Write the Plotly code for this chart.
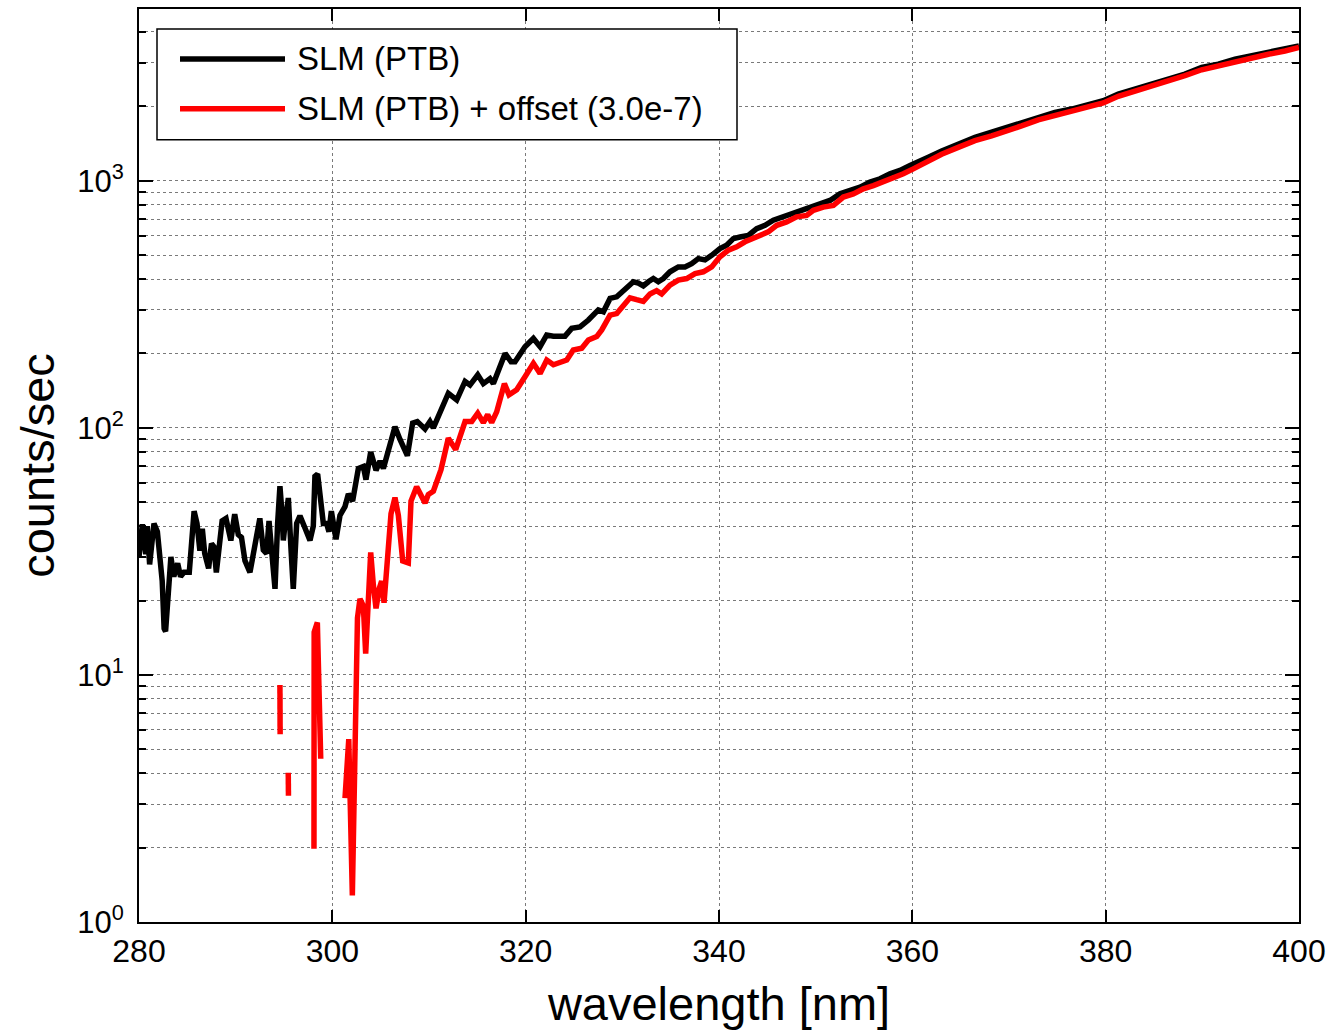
import plotly.graph_objects as go

# ---------------- data ----------------
wl_slm = [280.0, 280.35, 280.7, 280.85, 281.1, 281.55, 281.9, 282.4, 282.6, 282.75,
          283.3, 283.6, 284.0, 284.3, 284.65, 285.2, 285.7, 286.0, 286.3, 286.55,
          286.8, 287.2, 287.5, 287.75, 288.0, 288.6, 289.0, 289.5, 289.9, 290.27,
          290.6, 290.96, 291.48, 292.0, 292.5, 292.86, 293.2, 293.45, 293.72, 294.07,
          294.34, 294.58, 294.76, 294.93, 295.17, 295.45, 295.72, 295.96, 296.31, 296.65,
          297.17, 297.69, 298.03, 298.2, 298.48, 298.83, 299.07, 299.41, 299.65, 299.9,
          300.38, 300.79, 301.31, 301.66, 302.1, 302.69, 303.21, 303.48, 303.97, 304.52,
          304.93, 305.28, 305.79, 306.14, 306.48, 307.0, 307.76, 308.31, 308.79, 309.59,
          310.1, 310.45, 311.14, 312.0, 312.87, 313.73, 314.24, 315.04, 315.62, 316.31,
          316.66, 317.35, 317.87, 318.49, 318.9, 319.93, 320.8, 321.49, 322.18, 322.87,
          324.07, 324.76, 325.62, 326.49, 327.0, 327.52, 328.04, 328.73, 329.42, 330.28,
          331.14, 331.66, 332.17, 332.69, 333.21, 333.72, 334.24, 334.93, 335.79, 336.48,
          337.17, 337.86, 338.55, 339.24, 340.1, 340.79, 341.48, 342.17, 343.03, 343.9,
          344.76, 345.62, 346.66, 347.69, 348.72, 349.41, 350.45, 351.48, 352.52, 353.55,
          354.59, 355.62, 356.66, 357.69, 358.72, 359.76, 360.79, 361.65, 363.03, 364.75,
          366.48, 368.2, 369.93, 371.3, 373.03, 374.75, 376.48, 378.2, 379.75, 381.3,
          383.03, 384.75, 386.48, 388.2, 389.93, 391.65, 393.38, 395.1, 396.83, 398.55,
          400.0]
slm = [30, 40.7, 30.8, 40, 28, 41, 38, 24, 15.4, 15,
       30, 25, 28.3, 25, 26, 26, 46, 41, 31.8, 39,
       31, 27, 34, 33, 26, 42, 43, 35, 44.7, 37,
       36, 29, 26, 34, 43, 32, 31, 42, 32, 22.3,
       41, 58, 47, 35, 43, 52, 32.5, 22.3, 41, 44,
       39.3, 35, 40, 63.6, 65, 47.2, 41, 41, 38, 46,
       35.4, 44.2, 48, 54, 50.5, 68.5, 69.7, 61.7, 79.8, 67.3,
       73.3, 68.5, 81.1, 94.4, 101, 89.7, 77.1, 104.5, 106, 99,
       106, 100, 114.6, 138, 129.8, 154, 149, 164, 151, 158,
       151, 177, 200, 185, 185, 213, 230, 213, 237.5, 235,
       235, 252.6, 256, 273, 286, 300, 295, 334, 339, 361,
       390, 385, 375, 390, 402, 390, 402, 428, 448, 448,
       462, 484, 478, 499, 531, 548, 583, 592, 601, 640,
       660, 692, 714, 736, 759, 782, 807, 832, 885, 913,
       942, 987, 1018, 1067, 1101, 1153, 1195, 1245, 1318, 1408,
       1500, 1571, 1646, 1723, 1806, 1892, 1950, 2043, 2108, 2243,
       2350, 2462, 2578, 2700, 2872, 2963, 3103, 3200, 3300, 3405,
       3515]

# offset-corrected series; None = non-positive values (not drawable on log axis)
wl_off = [280.0, 294.58, 294.6, 294.9, 295.44, 295.46, 295.8, 298.1, 298.12, 298.45,
          298.8, 299.5, 301.31, 301.7, 302.07, 302.6, 302.86, 303.21, 303.45, 303.73,
          303.97, 304.24, 304.52, 304.86, 305.1, 305.35, 305.69, 306.07, 306.48, 306.83,
          307.28, 307.86, 308.14, 308.72, 309.59, 309.93, 310.45, 310.8, 311.24, 312.0,
          312.76, 313.73, 314.42, 315.04, 315.62, 316.07, 316.48, 317.0, 317.8, 318.28,
          319.07, 319.93, 320.8, 321.49, 322.18, 322.87, 324.25, 324.93, 325.8, 326.49,
          327.35, 327.87, 328.73, 329.42, 330.28, 330.79, 331.48, 332.17, 332.86, 333.55,
          334.07, 334.93, 335.79, 336.66, 337.52, 338.38, 339.24, 340.1, 340.97, 341.83,
          342.69, 343.55, 344.41, 345.1, 345.97, 347.0, 348.03, 349.07, 349.76, 350.79,
          351.83, 352.86, 353.9, 354.93, 355.97, 357.0, 358.03, 359.07, 360.1, 360.79,
          361.65, 363.03, 364.75, 366.48, 368.2, 369.93, 371.3, 373.03, 374.75, 376.48,
          378.2, 379.75, 381.3, 383.03, 384.75, 386.48, 388.2, 389.93, 391.65, 393.38,
          395.1, 396.83, 398.55, 400.0]
slm_off = [None, 9.1, 5.75, None, 4.02, 3.24, None, 1.98, 14.9, 16.3,
           4.58, None, 3.17, 5.5, 1.28, 17, 20.3, 19, 12.2, 21.7,
           31.3, 23.2, 18.6, 22.4, 24, 19.6, 28.4, 44.9, 52.2, 44.2,
           28.9, 28.4, 50.5, 57.8, 49.6, 53.7, 55.4, 61.7, 67.7, 90.8,
           81.6, 106, 106, 114.6, 105, 113, 105, 116, 151, 136,
           142.6, 161, 182.5, 166, 188, 180, 188, 206.5, 210, 226.6,
           234, 249, 286, 290, 322, 336, 330, 325, 348, 359,
           348, 378, 396, 402, 421, 428, 448, 492, 524, 540,
           566, 583, 601, 621, 660, 681, 714, 724, 759, 782,
           794, 859, 885, 927, 955, 987, 1033, 1067, 1117, 1155,
           1205, 1280, 1365, 1452, 1520, 1592, 1667, 1762, 1836, 1905,
           2000, 2065, 2197, 2300, 2410, 2523, 2661, 2812, 2918, 3055,
           3149, 3250, 3350, 3460]

x_ticks = [280, 300, 320, 340, 360, 380, 400]
y_tick_vals = [1, 10, 100, 1000]
y_tick_text = ["10<sup>0</sup>", "10<sup>1</sup>", "10<sup>2</sup>", "10<sup>3</sup>"]
series_names = ["SLM (PTB)", "SLM (PTB) + offset (3.0e-7)"]
series_colors = ["#000000", "#ff0000"]
x_title = "wavelength [nm]"
y_title = "counts/sec"

# ---------------- figure ----------------
FONT = "Liberation Sans, Arial, sans-serif"
W, H = 1335, 1034
ML, MR, MT, MB = 139, 36, 7, 112
PW, PH = W - ML - MR, H - MT - MB
LW = 5.5

def px_x(px):
    return (px - ML) / PW

def px_y(py):
    return (H - MB - py) / PH

fig = go.Figure()
fig.add_trace(go.Scatter(x=wl_slm, y=slm, mode="lines", name=series_names[0],
                         line=dict(color=series_colors[0], width=LW), showlegend=False))
fig.add_trace(go.Scatter(x=wl_off, y=slm_off, mode="lines", name=series_names[1],
                         line=dict(color=series_colors[1], width=LW),
                         connectgaps=False, showlegend=False))

grid = dict(gridcolor="#7a7a7a", gridwidth=1, griddash="dot")

fig.update_xaxes(range=[280, 400], tickvals=x_ticks, ticks="inside", ticklen=12,
                 tickwidth=2, tickcolor="black", showline=True, linecolor="black",
                 linewidth=2, mirror="allticks", showgrid=True, zeroline=False,
                 tickfont=dict(family=FONT, size=32, color="black"),
                 ticklabelstandoff=0,
                 title=dict(text=x_title, font=dict(family=FONT, size=47, color="black"),
                            standoff=19),
                 **grid)
fig.update_yaxes(type="log", range=[0, 3.695], tickvals=y_tick_vals, ticktext=y_tick_text,
                 ticks="inside", ticklen=14, tickwidth=2, tickcolor="black",
                 showline=True, linecolor="black", linewidth=2, mirror="allticks",
                 showgrid=True, zeroline=False,
                 tickfont=dict(family=FONT, size=31, color="black"),
                 ticklabelstandoff=7,
                 minor=dict(ticks="inside", ticklen=7, tickwidth=2, tickcolor="black",
                            showgrid=True, gridcolor="#7a7a7a", gridwidth=1, griddash="dot",
                            dtick="D1"),
                 title=dict(text=y_title, font=dict(family=FONT, size=47, color="black"),
                            standoff=8),
                 **grid)

# legend box (drawn like the MATLAB legend)
lx0, lx1, ly0, ly1 = px_x(157), px_x(737), px_y(138), px_y(27)
shapes = [dict(type="rect", xref="paper", yref="paper", x0=lx0, x1=lx1, y0=ly0, y1=ly1,
               line=dict(color="black", width=1.5), fillcolor="white", layer="above")]
annotations = []
for i, (name, col) in enumerate(zip(series_names, series_colors)):
    yc = px_y(57 + 50 * i)
    shapes.append(dict(type="line", xref="paper", yref="paper", x0=px_x(180), x1=px_x(285),
                       y0=yc, y1=yc, line=dict(color=col, width=LW), layer="above"))
    annotations.append(dict(xref="paper", yref="paper", x=px_x(295), y=yc,
                            xanchor="left", yanchor="middle", showarrow=False,
                            text=name, font=dict(family=FONT, size=33, color="black")))

fig.update_layout(width=W, height=H, margin=dict(l=ML, r=MR, t=MT, b=MB),
                  paper_bgcolor="white", plot_bgcolor="white",
                  shapes=shapes, annotations=annotations, showlegend=False)

fig.write_html("out.html")
